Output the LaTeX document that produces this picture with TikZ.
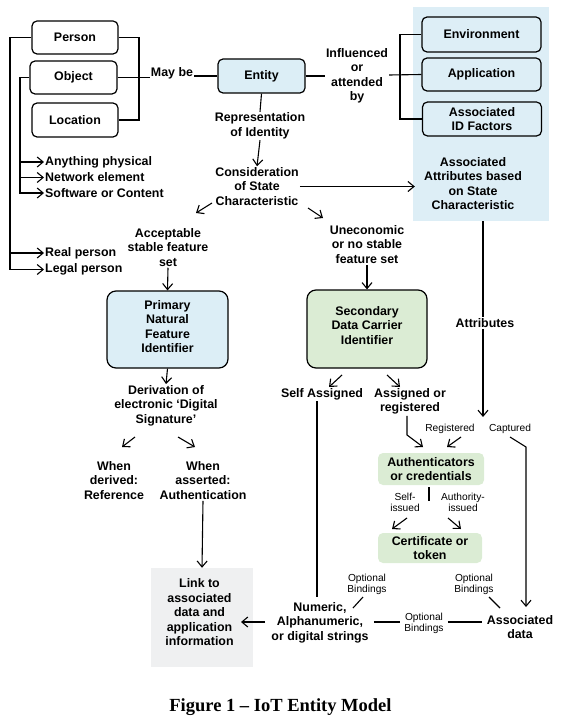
\documentclass[tikz,border=0pt]{standalone}
\usepackage{fontspec}
\setmainfont{Liberation Sans}
\newfontfamily\capfont{Liberation Serif}
\usetikzlibrary{arrows.meta,calc}
\definecolor{panelblue}{HTML}{DDEEF6}
\definecolor{boxblue}{HTML}{DCEEF6}
\definecolor{boxgreen}{HTML}{DBECD4}
\definecolor{boxgrey}{HTML}{EFF0F1}
\newcommand\bigf{\fontsize{12.4}{14.5}\selectfont\bfseries}
\newcommand\smf{\fontsize{10.2}{11}\selectfont}
\tikzset{
  ln/.style={line width=1.1pt},
  arr/.style={line width=1.1pt, -{Straight Barb[length=6pt,width=10pt,line width=1.1pt]}},
  ebox/.style={draw, line width=1.2pt, rounded corners=5pt, font=\bigf, align=center, inner sep=0pt},
  rbox/.style={draw, line width=1.2pt, rounded corners=9pt, font=\bigf, align=center, inner sep=0pt},
  gbox/.style={rounded corners=5pt, font=\bigf, align=center, inner sep=0pt, fill=boxgreen},
  txt/.style={font=\bigf, align=center, inner sep=1pt},
  sm/.style={font=\smf, align=center, inner sep=1pt},
}
\begin{document}
\begin{tikzpicture}[x=1pt,y=-1pt]
\useasboundingbox (0,0) rectangle (561,719);
% background panel
\node[fill=panelblue, minimum width=136pt, minimum height=214pt, inner sep=0pt] (panel) at (481,114) {};
% boxes
\node[ebox, minimum width=86pt, minimum height=33pt] (person) at (75,37.5) {Person};
\node[ebox, minimum width=87pt, minimum height=33pt] (object) at (73.5,77.5) {Object};
\node[ebox, minimum width=86pt, minimum height=34pt] (location) at (75,120) {Location};
\node[ebox, fill=boxblue, minimum width=87pt, minimum height=34pt] (entity) at (261.5,76) {Entity};
\node[ebox, minimum width=119pt, minimum height=35pt] (environment) at (481.5,34.5) {Environment};
\node[ebox, minimum width=119pt, minimum height=33pt] (application) at (481.5,74.5) {Application};
\node[ebox, minimum width=119pt, minimum height=34pt] (associd) at (482,119) {Associated\\ID Factors};
\node[rbox, fill=boxblue, minimum width=121pt, minimum height=77pt] (primary) at (167.5,329.5) {};
\node[txt] (primarytxt) at (167.5,326.5) {Primary\\Natural\\Feature\\Identifier};
\node[rbox, fill=boxgreen, minimum width=120pt, minimum height=78pt] (secondary) at (367,329) {};
\node[txt] (secondarytxt) at (367,325.5) {Secondary\\Data Carrier\\Identifier};
\node[gbox, minimum width=106pt, minimum height=32pt] (auth) at (431,469) {Authenticators\\or credentials};
\node[gbox, minimum width=104pt, minimum height=30pt] (cert) at (430,548) {Certificate or\\token};
\node[fill=boxgrey, inner sep=0pt, minimum width=102pt, minimum height=99pt] (link) at (202,617.5) {};
\node[txt] (linktxt) at (199.5,612.5) {Link to\\associated\\data and\\application\\information};
% text nodes
\node[txt] (maybe) at (172,73.5) {May be};
\node[txt] (influenced) at (357,76) {Influenced\\or\\attended\\by};
\node[txt] (repr) at (260,126) {Representation\\of Identity};
\node[txt] (consid) at (257,186.5) {Consideration\\of State\\Characteristic};
\node[txt] (assocattr) at (473,183.5) {Associated\\Attributes based\\on State\\Characteristic};
\node[txt, anchor=west] (anything) at (44,162) {Anything physical};
\node[txt, anchor=west] (network) at (44,177.5) {Network element};
\node[txt, anchor=west] (software) at (44,193) {Software or Content};
\node[txt, anchor=west] (real) at (44,253) {Real person};
\node[txt, anchor=west] (legal) at (44,269.5) {Legal person};
\node[txt] (accept) at (168,247.5) {Acceptable\\stable feature\\set};
\node[txt] (unecon) at (367,244.5) {Uneconomic\\or no stable\\feature set};
\node[txt] (deriv) at (166,405.5) {Derivation of\\electronic `Digital\\Signature'};
\node[txt] (whender) at (114,480.5) {When\\derived:\\Reference};
\node[txt] (whenass) at (203,480.5) {When\\asserted:\\Authentication};
\node[txt] (selfass) at (322,394) {Self Assigned};
\node[txt] (assigned) at (410,401.5) {Assigned or\\registered};
\node[txt] (attributes) at (485,323) {Attributes};
\node[sm] (registered) at (450,429) {Registered};
\node[sm] (captured) at (510,429) {Captured};
\node[sm] (selfiss) at (405,502) {Self-\\issued};
\node[sm] (authiss) at (463,502) {Authority-\\issued};
\node[txt] (numeric) at (320,622.5) {Numeric,\\Alphanumeric,\\or digital strings};
\node[sm] (ob1) at (367,584) {Optional\\Bindings};
\node[sm] (ob2) at (474,584) {Optional\\Bindings};
\node[sm] (ob3) at (424,623) {Optional\\Bindings};
\node[txt] (assocdata) at (520,627) {Associated\\data};
\node[font=\capfont\bfseries\fontsize{18.5}{20}\selectfont, inner sep=0pt] (caption) at (280.5,707) {Figure 1 – IoT Entity Model};
% helper coordinates
\coordinate (pl) at (10,0);
\coordinate (ol) at (20,0);
\coordinate (rb) at (139,0);
\coordinate (br) at (400,75);
% left brackets
\draw[ln] (person.east) -- (rb |- person.east) |- (location.east);
\draw[ln] (object.east) -- (maybe.west |- object.east);
\draw[ln] (maybe.east |- entity.west) -- (entity.west);
\draw[arr] (person.west) -| (pl |- legal.west) -- (legal.west);
\draw[arr] (pl |- real.west) -- (real.west);
\draw[arr] (object.west) -| (ol |- software.west) -- (software.west);
\draw[arr] (ol |- anything.west) -- (anything.west);
\draw[arr] (ol |- network.west) -- (network.west);
% right bracket
\draw[ln] (entity.east) -- (influenced.west |- entity.east);
\draw[ln] (influenced.east |- br) -- (application.west);
\draw[ln] (environment.west) -| (br) |- (associd.west);
% centre column
\draw[ln] (entity.south) -- (repr.north);
\draw[arr] (repr.south) -- (consid.north);
\draw[arr] (consid.east) -- ($(panel.west |- consid.east)+(2,0)$);
\coordinate (c1) at (212,203); \coordinate (c2) at (196,213);
\draw[arr] (c1) -- (c2);
\coordinate (c3) at (308,208); \coordinate (c4) at (323,218);
\draw[arr] (c3) -- (c4);
\draw[arr] (accept.south) -- (primary.north);
\draw[arr] (unecon.south) -- (secondary.north);
\draw[arr] (primary.south) -- (deriv.north);
\coordinate (d1) at (135,437); \coordinate (d2) at (122,447);
\draw[arr] (d1) -- (d2);
\coordinate (d3) at (178,437); \coordinate (d4) at (195,447);
\draw[arr] (d3) -- (d4);
\draw[arr] (whenass.south) -- (link.north);
% secondary branch
\coordinate (s1) at (342,375); \coordinate (s2) at (329,387);
\draw[arr] (s1) -- (s2);
\coordinate (s3) at (387,375); \coordinate (s4) at (400,387);
\draw[arr] (s3) -- (s4);
\coordinate (sa) at (317,597);
\draw[ln] (selfass.south -| sa) -- (sa);
\coordinate (a1) at (407,435); \coordinate (a2) at (423,447);
\draw[arr] (assigned.south -| a1) -- (a1) -- (a2);
% attributes
\coordinate (at) at (483,417);
\draw[ln] (panel.south -| at) -- (attributes.north -| at);
\draw[arr] (attributes.south -| at) -- (at);
\coordinate (r1) at (461,437); \coordinate (r2) at (447,447);
\draw[arr] (r1) -- (r2);
\coordinate (k1) at (510,437); \coordinate (k2) at (526,447); \coordinate (k3) at (526,607);
\draw[arr] (k1) -- (k2) -- (k3);
% authenticators
\draw[ln] ($(auth.south)+(-2,2)$) -- ++(0,14);
\coordinate (i1) at (407,518); \coordinate (i2) at (392,529);
\draw[arr] (i1) -- (i2);
\coordinate (i3) at (448,518); \coordinate (i4) at (461,529);
\draw[arr] (i3) -- (i4);
% bottom row
\coordinate (n1) at (265,622); \coordinate (n2) at (241,622);
\draw[arr] (n1) -- (n2);
\draw[ln, shorten <=4pt, shorten >=3pt] (numeric.east |- 0,622) -- (ob3.west |- 0,622);
\draw[ln, shorten <=3pt, shorten >=4pt] (ob3.east |- 0,622) -- (assocdata.west |- 0,622);
\coordinate (t1) at (363,597); \coordinate (t2) at (353,608);
\draw[ln] (t1) -- (t2);
\coordinate (t3) at (489,597); \coordinate (t4) at (500,608);
\draw[ln] (t3) -- (t4);
\end{tikzpicture}
\end{document}
